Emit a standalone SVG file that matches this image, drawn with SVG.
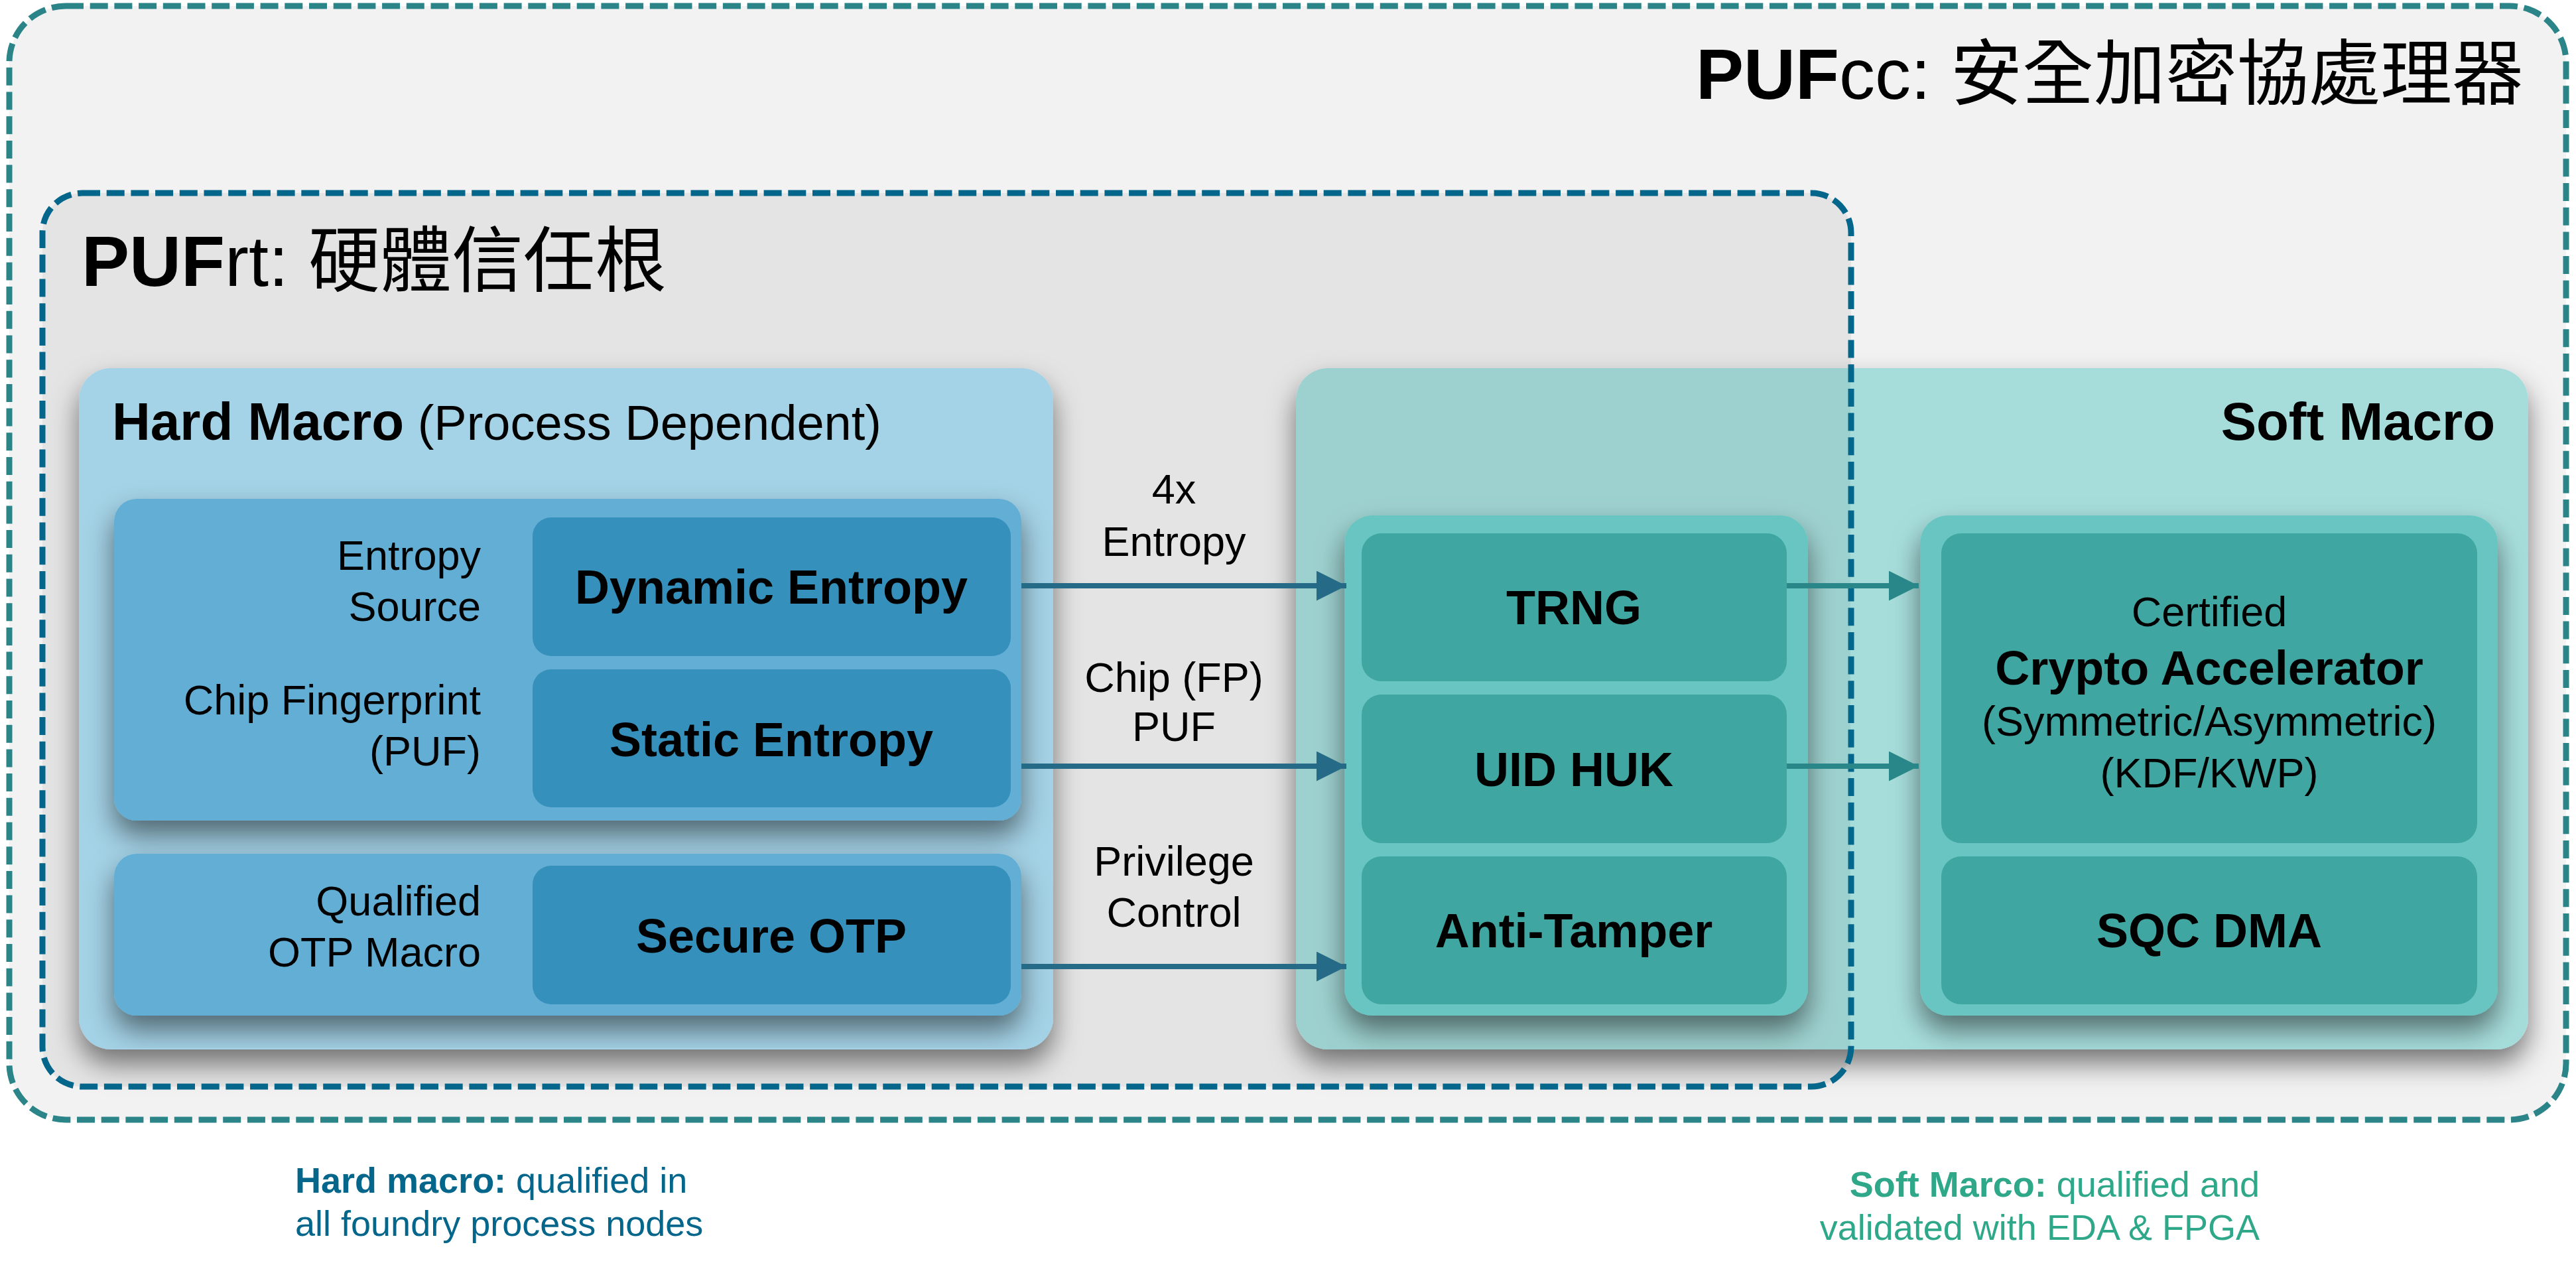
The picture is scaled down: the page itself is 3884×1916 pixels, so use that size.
<svg xmlns="http://www.w3.org/2000/svg" width="3884" height="1916" viewBox="0 0 3884 1916">
<defs>
<style>
text{font-family:"Liberation Sans","Noto Sans CJK TC",sans-serif;fill:#000}
.b{font-weight:bold}
.lbl{font-size:63px}
.box{font-size:72px;font-weight:bold;text-anchor:middle}
.mid{text-anchor:middle}
.end{text-anchor:end}
.hm{fill:#a4d2e6}
.hg{fill:#62aed4}
.hb{fill:#3590bb}
.sm{fill:#a6dddb}
.sg{fill:#67c5c2}
.sb{fill:#40a6a2}
.c1{stroke:#256a87;stroke-width:8;fill:none}
.c2{stroke:#29878a;stroke-width:8;fill:none}
</style>
<filter id="sh" x="-10%" y="-10%" width="120%" height="130%">
<feDropShadow dx="0" dy="22" stdDeviation="20" flood-color="#000" flood-opacity="0.5"/>
</filter>
<clipPath id="smclip"><rect x="1954" y="555" width="1858" height="1027" rx="48"/></clipPath>
<marker id="a1" viewBox="0 0 45 45" refX="45" refY="22.5" markerWidth="45" markerHeight="45" markerUnits="userSpaceOnUse" orient="auto"><path d="M0,0 L45,22.5 L0,45 Z" fill="#256a87"/></marker>
<marker id="a2" viewBox="0 0 45 45" refX="45" refY="22.5" markerWidth="45" markerHeight="45" markerUnits="userSpaceOnUse" orient="auto"><path d="M0,0 L45,22.5 L0,45 Z" fill="#29878a"/></marker>
</defs>
<rect width="3884" height="1916" fill="#ffffff"/>

<g id="pufcc">
<rect x="14" y="9" width="3855" height="1679" rx="85" fill="#f2f2f2" stroke="#2a8488" stroke-width="9" stroke-dasharray="27 9.7"/>
<text x="3805" y="149" class="end" font-size="108"><tspan class="b">PUF</tspan><tspan>cc: 安全加密協處理器</tspan></text>
</g>

<g id="pufrt">
<rect x="64" y="291" width="2727" height="1347" rx="60" fill="#e4e4e4"/>
<text x="123" y="431" font-size="108"><tspan class="b">PUF</tspan><tspan>rt: 硬體信任根</tspan></text>
</g>

<g id="hard-macro">
<rect x="119" y="555" width="1469" height="1027" rx="48" class="hm" filter="url(#sh)"/>
<text x="169" y="663"><tspan class="b" font-size="80">Hard Macro</tspan><tspan font-size="74"> (Process Dependent)</tspan></text>
</g>

<g id="soft-macro">
<rect x="1954" y="555" width="1858" height="1027" rx="48" class="sm" filter="url(#sh)"/>
<rect x="1954" y="555" width="836" height="1027" fill="#000" opacity="0.05" clip-path="url(#smclip)"/>
<text x="3762" y="663" class="b end" font-size="80">Soft Macro</text>
</g>

<rect id="pufrt-border" x="64" y="291" width="2727" height="1347" rx="60" fill="none" stroke="#03668a" stroke-width="9" stroke-dasharray="27 9.7"/>

<g id="entropy-group">
<rect x="172" y="752" width="1368" height="485" rx="34" class="hg" filter="url(#sh)"/>
<text class="lbl end" x="725" y="859">Entropy</text>
<text class="lbl end" x="725" y="936">Source</text>
<text class="lbl end" x="725" y="1077">Chip Fingerprint</text>
<text class="lbl end" x="725" y="1154">(PUF)</text>
</g>
<g id="dynamic-entropy">
<rect x="803" y="780" width="721" height="209" rx="28" class="hb"/>
<text class="box" x="1163" y="910">Dynamic Entropy</text>
</g>
<g id="static-entropy">
<rect x="803" y="1009" width="721" height="208" rx="28" class="hb"/>
<text class="box" x="1163" y="1140">Static Entropy</text>
</g>

<g id="otp-group">
<rect x="172" y="1287" width="1368" height="244" rx="34" class="hg" filter="url(#sh)"/>
<text class="lbl end" x="725" y="1380">Qualified</text>
<text class="lbl end" x="725" y="1457">OTP Macro</text>
</g>
<g id="secure-otp">
<rect x="803" y="1305" width="721" height="209" rx="28" class="hb"/>
<text class="box" x="1163" y="1436">Secure OTP</text>
</g>

<g id="trng-group">
<rect x="2027" y="777" width="699" height="754" rx="42" class="sg" filter="url(#sh)"/>
</g>
<g id="trng">
<rect x="2053" y="804" width="641" height="223" rx="30" class="sb"/>
<text class="box" x="2373" y="941">TRNG</text>
</g>
<g id="uid-huk">
<rect x="2053" y="1047" width="641" height="224" rx="30" class="sb"/>
<text class="box" x="2373" y="1185">UID HUK</text>
</g>
<g id="anti-tamper">
<rect x="2053" y="1291" width="641" height="223" rx="30" class="sb"/>
<text class="box" x="2373" y="1428">Anti-Tamper</text>
</g>

<g id="crypto-group">
<rect x="2895" y="777" width="871" height="754" rx="42" class="sg" filter="url(#sh)"/>
</g>
<g id="crypto-accelerator">
<rect x="2927" y="804" width="808" height="467" rx="30" class="sb"/>
<text class="lbl mid" x="3331" y="944">Certified</text>
<text class="box" x="3331" y="1032">Crypto Accelerator</text>
<text class="lbl mid" x="3331" y="1109">(Symmetric/Asymmetric)</text>
<text class="lbl mid" x="3331" y="1187">(KDF/KWP)</text>
</g>
<g id="sqc-dma">
<rect x="2927" y="1291" width="808" height="223" rx="30" class="sb"/>
<text class="box" x="3331" y="1428">SQC DMA</text>
</g>

<g id="connectors">
<line class="c1" x1="1540" y1="883" x2="2030" y2="883" marker-end="url(#a1)"/>
<line class="c1" x1="1540" y1="1155" x2="2030" y2="1155" marker-end="url(#a1)"/>
<line class="c1" x1="1540" y1="1457" x2="2030" y2="1457" marker-end="url(#a1)"/>
<line class="c2" x1="2694" y1="883" x2="2893" y2="883" marker-end="url(#a2)"/>
<line class="c2" x1="2694" y1="1155" x2="2893" y2="1155" marker-end="url(#a2)"/>
<text class="lbl mid" x="1770" y="759">4x</text>
<text class="lbl mid" x="1770" y="838">Entropy</text>
<text class="lbl mid" x="1770" y="1043">Chip (FP)</text>
<text class="lbl mid" x="1770" y="1117">PUF</text>
<text class="lbl mid" x="1770" y="1320">Privilege</text>
<text class="lbl mid" x="1770" y="1397">Control</text>
</g>

<g id="captions" font-size="54">
<text x="445" y="1798" font-size="54" style="fill:#04668a"><tspan class="b">Hard macro:</tspan> qualified in</text>
<text x="445" y="1863" font-size="54" style="fill:#04668a">all foundry process nodes</text>
<text x="3407" y="1804" font-size="54" class="end" style="fill:#2fa88a"><tspan class="b">Soft Marco:</tspan> qualified and</text>
<text x="3407" y="1869" font-size="54" class="end" style="fill:#2fa88a">validated with EDA &amp; FPGA</text>
</g>
</svg>
